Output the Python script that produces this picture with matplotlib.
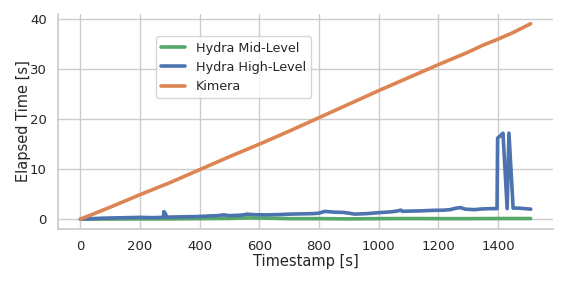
import matplotlib
matplotlib.use("Agg")
import matplotlib.pyplot as plt
import seaborn as sns

sns.set_theme(style="whitegrid")
plt.rcParams['font.family'] = ['DejaVu Sans']

# Kimera elapsed time
kimera_t = [0, 100, 200, 300, 400, 500, 600, 700, 800, 900, 1000, 1100, 1200, 1300, 1350, 1400, 1450, 1510]
kimera_y = [0, 2.4, 4.9, 7.3, 9.9, 12.5, 15.0, 17.6, 20.3, 23.0, 25.7, 28.3, 30.9, 33.4, 34.8, 36.0, 37.3, 39.1]

# Hydra high-level
high_t = [0, 40, 80, 120, 160, 200, 240, 278, 280, 282, 284, 290, 330, 380, 420, 460, 480, 500,
          540, 560, 580, 620, 660, 700, 740, 780, 800, 820, 850, 880, 900, 920, 960, 1000,
          1040, 1060, 1075, 1080, 1100, 1140, 1180, 1220, 1240, 1260, 1275, 1290, 1320,
          1350, 1380, 1397, 1399, 1405, 1417, 1431, 1437, 1451, 1470, 1490, 1510]
high_y = [0, 0.1, 0.2, 0.25, 0.3, 0.35, 0.3, 0.35, 1.5, 0.4, 1.2, 0.4, 0.45, 0.5, 0.6, 0.7, 0.85, 0.7,
          0.8, 1.0, 0.9, 0.85, 0.9, 1.0, 1.05, 1.1, 1.2, 1.55, 1.4, 1.35, 1.2, 1.0, 1.1, 1.3,
          1.45, 1.6, 1.8, 1.55, 1.6, 1.65, 1.75, 1.8, 1.9, 2.2, 2.3, 2.0, 1.9,
          2.05, 2.1, 2.1, 16.2, 16.5, 17.2, 2.1, 17.2, 2.2, 2.2, 2.1, 2.0]

# Hydra mid-level
mid_t = [0, 100, 200, 300, 400, 500, 560, 620, 700, 800, 900, 1000, 1100, 1200, 1300, 1400, 1510]
mid_y = [0, 0.02, 0.05, 0.05, 0.1, 0.15, 0.25, 0.2, 0.1, 0.1, 0.05, 0.1, 0.12, 0.1, 0.1, 0.12, 0.12]

fig = plt.figure(figsize=(5.68, 2.84), dpi=100)
ax = fig.add_axes([0.102, 0.194, 0.872, 0.757])

ax.plot(mid_t, mid_y, color="#55A868", lw=2.6, label="Hydra Mid-Level")
ax.plot(high_t, high_y, color="#4C72B0", lw=2.6, label="Hydra High-Level")
ax.plot(kimera_t, kimera_y, color="#DD8452", lw=2.6, label="Kimera")

ax.set_xticks([0, 200, 400, 600, 800, 1000, 1200, 1400])
ax.set_yticks([0, 10, 20, 30, 40])
ax.tick_params(labelsize=9.5, pad=2)
ax.set_xlabel("Timestamp [s]", fontsize=10.5, labelpad=1)
ax.set_ylabel("Elapsed Time [s]", fontsize=10.5, labelpad=-1)
sns.despine(ax=ax)

ax.legend(loc="upper left", bbox_to_anchor=(0.185, 0.925), fontsize=9.2,
          handlelength=1.9, frameon=True)

fig.savefig("out.png", dpi=100)
